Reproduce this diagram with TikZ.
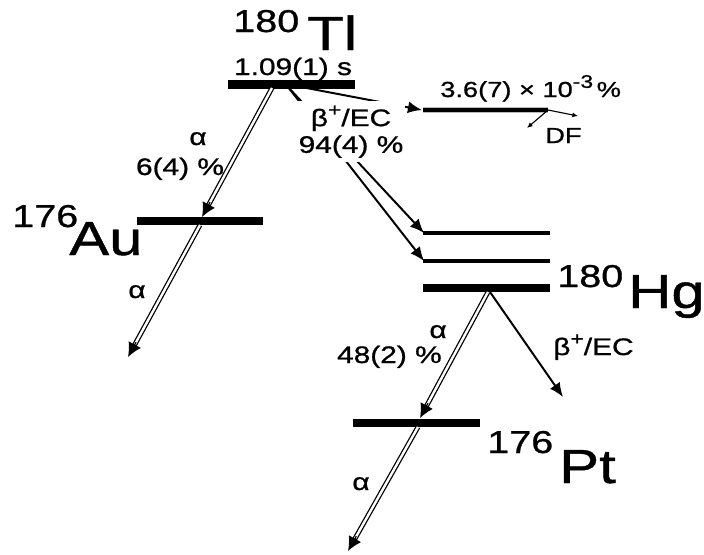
\documentclass[tikz,border=0pt]{standalone}
\usepackage{fontspec}
\setmainfont{Liberation Sans}[FakeStretch=1.25,FakeBold=0.9]
\usetikzlibrary{arrows.meta,calc}
\newcommand\mysup[1]{\raisebox{0.42em}{\fontsize{13}{13}\selectfont #1}}
\begin{document}
\begin{tikzpicture}[x=0.025cm,y=-0.025cm,
  lvl/.style={line width=5.7pt},
  lvlthin/.style={line width=3.3pt},
  dbl/.style={double, double distance=1.7pt, line width=0.9pt, shorten >=7pt},
  dbltip/.style={line width=0.9pt, -{Latex[length=10pt,width=10pt]}},
  betaarrow/.style={line width=1.4pt, -{Latex[length=10pt,width=8.5pt]}},
  smallarrow/.style={line width=0.8pt, -{Latex[length=4pt,width=3.5pt]}},
  lbl/.style={inner sep=0pt, font=\fontsize{17}{19}\selectfont},
  smlbl/.style={inner sep=0pt, font=\fontsize{15.5}{18}\selectfont},
  big/.style={inner sep=0pt, font=\fontsize{34}{36}\selectfont},
  mass/.style={inner sep=0pt, font=\fontsize{22.5}{26}\selectfont}]
\useasboundingbox (0,0) rectangle (704,554);

% level end points
\coordinate (tlL) at (228,84.5); \coordinate (tlR) at (355,84.5);
\coordinate (auL) at (137,221);  \coordinate (auR) at (263,221);
\coordinate (hgaL) at (423,233); \coordinate (hgaR) at (550,233);
\coordinate (hgbL) at (423,261); \coordinate (hgbR) at (550,261);
\coordinate (hgL) at (423,288);  \coordinate (hgR) at (550,288);
\coordinate (ptL) at (353,423);  \coordinate (ptR) at (480,423);
\coordinate (dfL) at (423,110);  \coordinate (dfR) at (548,110);

% arrow end points
\coordinate (a1s) at (272,88);  \coordinate (a1e) at (202,217);
\coordinate (a2s) at (200,225); \coordinate (a2e) at (128,357);
\coordinate (a3s) at (488,292); \coordinate (a3e) at (420,418);
\coordinate (a4s) at (418,427); \coordinate (a4e) at (348,551);
\coordinate (bs) at (288,87);
\coordinate (bta) at (424,233); \coordinate (btb) at (424,261);
\coordinate (dfs) at (296,86);  \coordinate (dft) at (422,110);
\coordinate (hgbs) at (490,292); \coordinate (hgbe) at (563,397);
\coordinate (dfa) at (578,116); \coordinate (dfb) at (527,128);

% levels
\draw[lvl] (tlL) -- (tlR);
\draw[lvl] (auL) -- (auR);
\draw[lvlthin] (hgaL) -- (hgaR);
\draw[lvlthin] (hgbL) -- (hgbR);
\draw[lvl] (hgL) -- (hgR);
\draw[lvl] (ptL) -- (ptR);
\draw[line width=4.8pt, gray!55] (dfL) -- (dfR);
\draw[line width=2.2pt] (dfL) -- (dfR);

% alpha decays
\foreach \s/\e in {a1s/a1e, a2s/a2e, a3s/a3e, a4s/a4e}{
  \draw[dbl] (\s) -- (\e);
  \draw[dbltip] ($(\e)!12pt!(\s)$) -- (\e);
}

% beta decays
\draw[betaarrow] (bs) -- (bta);
\draw[betaarrow] (bs) -- (btb);
\draw[betaarrow] (dfs) -- (dft);
\draw[betaarrow] (hgbs) -- (hgbe);
\draw[smallarrow] (dfR) -- (dfa);
\draw[smallarrow] (dfR) -- (dfb);

% labels
\node[lbl, fill=white, inner xsep=1pt, inner ysep=3pt, align=center, anchor=north] (tlbeta) at (351,101)
  {β\mysup{+}/EC\\94(4) \%};
\node[lbl, anchor=base] (tlhalf) at (293,75) {1.09(1) s};
\node[lbl, anchor=base] (tlalpha) at (198,145) {α};
\node[lbl, anchor=base] (tlapct) at (180,175) {6(4) \%};
\node[lbl, anchor=base] (aualpha) at (137,298) {α};
\node[lbl, anchor=base east] (hgalpha) at (447,338) {α};
\node[lbl, anchor=base east] (hgapct) at (442,363) {48(2) \%};
\node[lbl, anchor=base west] (hgbeta) at (553,355) {β\mysup{+}/EC};
\node[lbl, anchor=base] (ptalpha) at (361,490) {α};
\node[smlbl, anchor=base west] (dfpct) at (440,97) {3.6(7) × 10\mysup{-3}\,\%};
\node[smlbl, anchor=base west] (dflbl) at (545,143) {DF};

% nuclide names
\node[mass, anchor=base west] (tlA) at (233,32) {180};
\node[big, anchor=base west] (tlN) at (307,50) {Tl};
\node[mass, anchor=base west] (auA) at (12,227) {176};
\node[big, anchor=base west] (auN) at (69,255) {Au};
\node[mass, anchor=base west] (hgA) at (557,287) {180};
\node[big, anchor=base west] (hgN) at (628,308) {Hg};
\node[mass, anchor=base west] (ptA) at (487,453) {176};
\node[big, anchor=base west] (ptN) at (559,483) {Pt};
\end{tikzpicture}
\end{document}
